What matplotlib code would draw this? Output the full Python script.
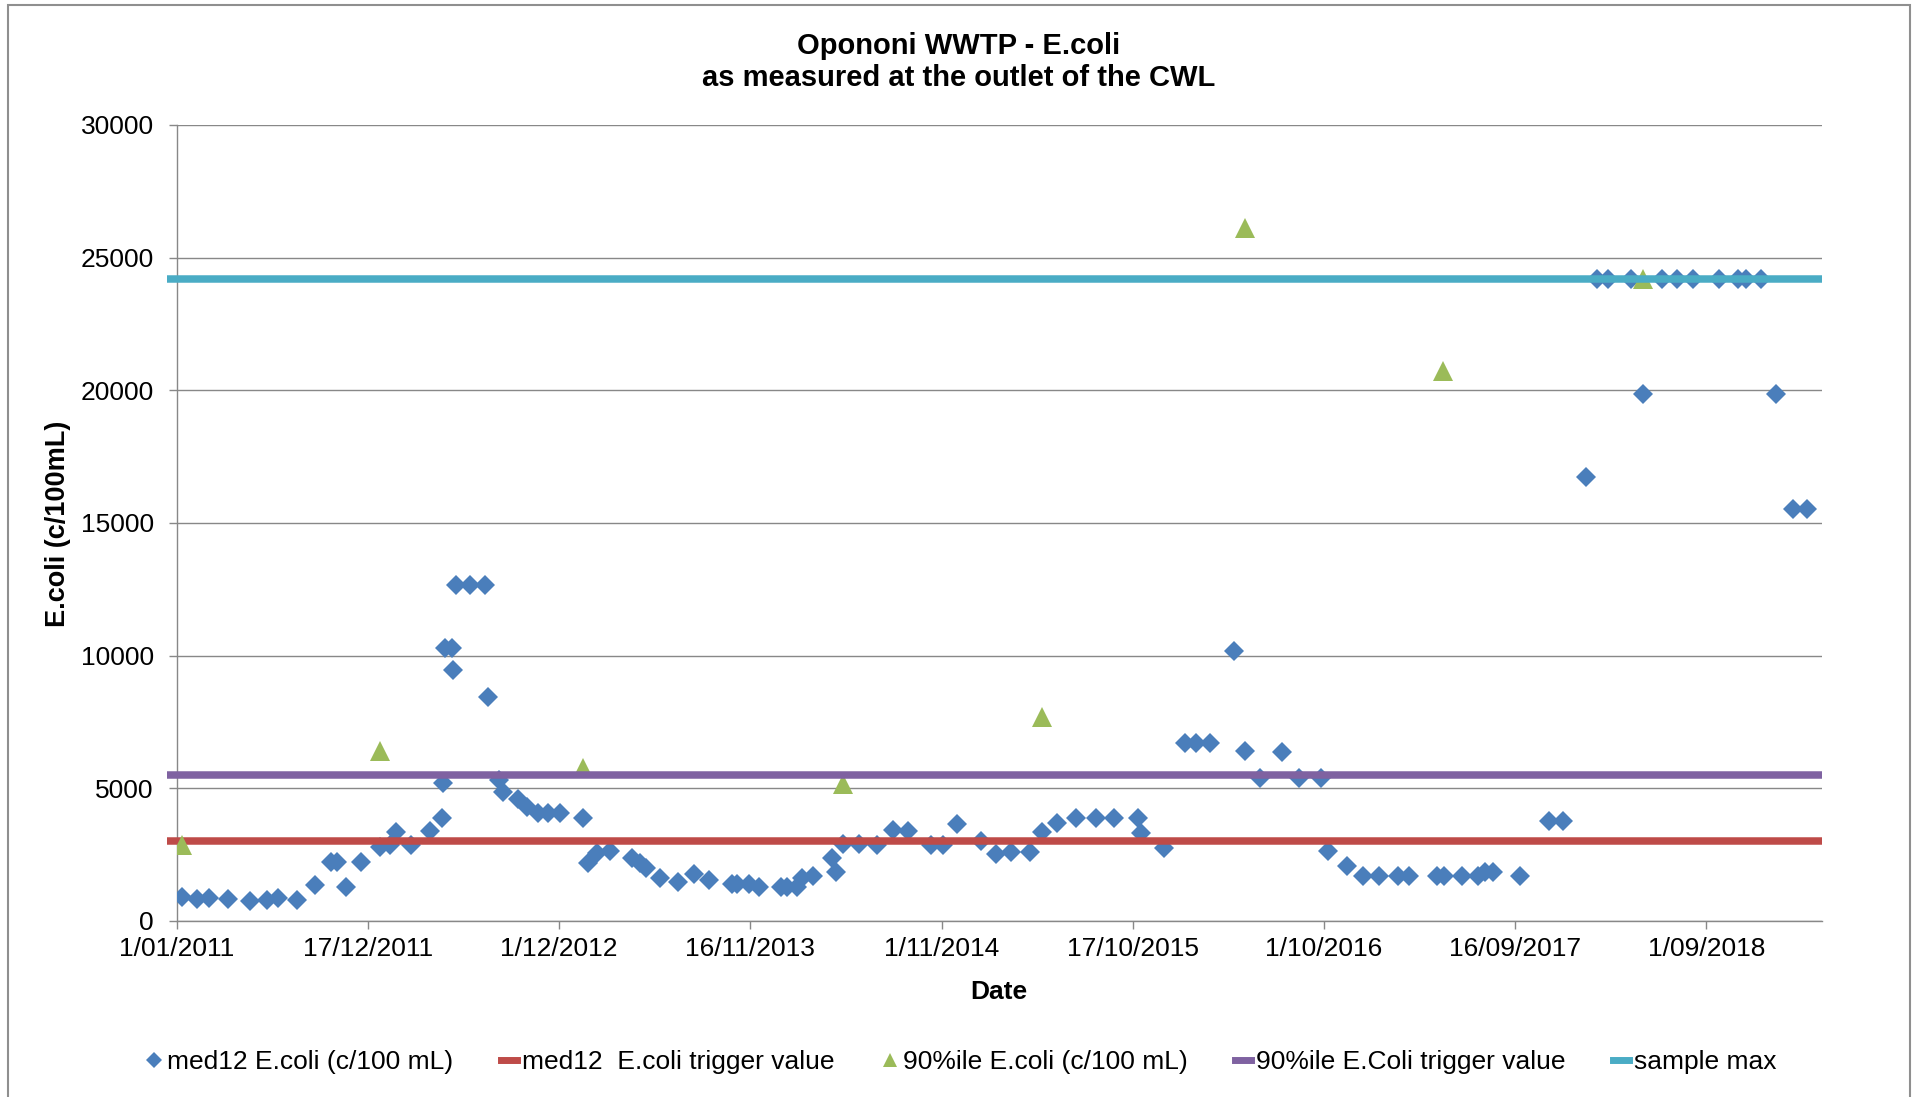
import numpy as np
import pandas as pd
import matplotlib
matplotlib.use("Agg")
import matplotlib.pyplot as plt
from matplotlib.lines import Line2D
from matplotlib.patches import Rectangle

plt.rcParams['font.family'] = ['Liberation Sans', 'DejaVu Sans']

START = pd.Timestamp('2011-01-01')

# med12 E.coli, days after 1/01/2011 and value (c/100 mL)
med_days = [9, 38, 60, 93, 134, 165, 186, 220, 254, 282, 293, 310, 337, 372, 390, 401,
            429, 464, 485, 487, 491, 503, 506, 512, 536, 564, 569, 590, 598, 624, 641,
            661, 680, 702, 744, 752, 770, 794, 833, 848, 859, 885, 918, 947, 975, 1016,
            1025, 1048, 1066, 1106, 1117, 1135, 1144, 1164, 1199, 1206, 1220, 1249, 1282,
            1311, 1339, 1381, 1402, 1429, 1472, 1500, 1528, 1562, 1584, 1611, 1646, 1682,
            1716, 1760, 1765, 1807, 1846, 1865, 1892, 1936, 1956, 1983, 2024, 2055, 2094,
            2108, 2143, 2172, 2201, 2235, 2256, 2306, 2319, 2353, 2381, 2395, 2409, 2458,
            2511, 2538, 2579, 2599, 2619, 2662, 2683, 2719, 2747, 2776, 2823, 2857, 2872,
            2900, 2927, 2958, 2985]
med_vals = [920, 830, 850, 840, 770, 790, 850, 790, 1360, 2240, 2240, 1270, 2240, 2780,
            2870, 3370, 2870, 3400, 3900, 5190, 10300, 10300, 9460, 12650, 12650, 12650,
            8460, 5320, 4880, 4590, 4310, 4060, 4060, 4060, 3870, 2180, 2550, 2620, 2360,
            2180, 1990, 1610, 1480, 1770, 1550, 1400, 1400, 1400, 1270, 1270, 1270, 1270,
            1610, 1700, 2360, 1860, 2890, 2890, 2870, 3430, 3400, 2870, 2870, 3660, 3030,
            2520, 2590, 2590, 3370, 3680, 3870, 3870, 3870, 3870, 3310, 2760, 6720, 6720,
            6720, 10190, 6420, 5380, 6360, 5380, 5380, 2620, 2090, 1710, 1710, 1710, 1710,
            1710, 1710, 1710, 1710, 1840, 1840, 1710, 3780, 3780, 16720, 24196, 24196,
            24196, 19870, 24196, 24196, 24196, 24196, 24196, 24196, 24196, 19870, 15530,
            15530]

# 90%ile E.coli
p90_days = [9, 373, 744, 1219, 1584, 1956, 2318, 2683]
p90_vals = [2870, 6420, 5760, 5170, 7670, 26120, 20720, 24196]

med_trigger = 3000
p90_trigger = 5500
sample_max = 24196
line_days = [-18, 3011]
x_end_days = 3011

tick_labels = ['1/01/2011', '17/12/2011', '1/12/2012', '16/11/2013', '1/11/2014',
               '17/10/2015', '1/10/2016', '16/09/2017', '1/09/2018']

BLUE = '#4A7EBB'
RED = '#BE4B48'
GREEN = '#9BBB59'
PURPLE = '#7F62A1'
CYAN = '#4AACC5'
GRID = '#888888'

med_x = START + pd.to_timedelta(med_days, unit='D')
p90_x = START + pd.to_timedelta(p90_days, unit='D')
line_x = START + pd.to_timedelta(line_days, unit='D')

fig = plt.figure(figsize=(19.23, 10.97), dpi=100)
ax = fig.add_axes([176.7 / 1923, 1 - 921 / 1097, 1645 / 1923, 796 / 1097])

ax.plot(med_x, med_vals, ls='none', marker='D', ms=10.2, mew=0, color=BLUE, zorder=3)
ax.plot(line_x, [med_trigger] * 2, color=RED, lw=5.4, solid_capstyle='butt', zorder=4, clip_on=False)
ax.plot(p90_x, p90_vals, ls='none', marker='^', ms=14.4, mew=0, color=GREEN, zorder=5)
ax.plot(line_x, [p90_trigger] * 2, color=PURPLE, lw=5.4, solid_capstyle='butt', zorder=6, clip_on=False)
ax.plot(line_x, [sample_max] * 2, color=CYAN, lw=5.4, solid_capstyle='butt', zorder=7, clip_on=False)

ax.set_ylim(0, 30000)
ax.set_yticks(np.arange(0, 30001, 5000))
ax.set_xlim(START, START + pd.Timedelta(days=x_end_days))
ax.set_xticks(pd.to_datetime(tick_labels, dayfirst=True))
ax.set_xticklabels(tick_labels)

ax.grid(axis='y', color=GRID, lw=1.0, zorder=1)
ax.set_axisbelow(True)
for s in ['top', 'right']:
    ax.spines[s].set_visible(False)
for s in ['left', 'bottom']:
    ax.spines[s].set_color(GRID)
    ax.spines[s].set_linewidth(1.0)
ax.tick_params(axis='both', direction='out', length=5.5, width=1.0, color=GRID, labelsize=19)
ax.tick_params(axis='y', pad=11)
ax.tick_params(axis='x', pad=6)

fig.text(959 / 1923, 1 - 45.5 / 1097, 'Opononi WWTP - E.coli', ha='center', va='center',
         fontsize=21, fontweight='bold')
fig.text(959 / 1923, 1 - 78.5 / 1097, 'as measured at the outlet of the CWL', ha='center',
         va='center', fontsize=21, fontweight='bold')
fig.text(999 / 1923, 1 - 992 / 1097, 'Date', ha='center', va='center', fontsize=19,
         fontweight='bold')
fig.text(57.6 / 1923, 1 - 523.7 / 1097, 'E.coli (c/100mL)', ha='center', va='center',
         rotation=90, fontsize=19.5, fontweight='bold')

handles = [
    Line2D([], [], ls='none', marker='D', ms=8, mew=0, color=BLUE),
    Line2D([], [], color=RED, lw=5),
    Line2D([], [], ls='none', marker='^', ms=10, mew=0, color=GREEN),
    Line2D([], [], color=PURPLE, lw=5),
    Line2D([], [], color=CYAN, lw=5),
]
labels = ['med12 E.coli (c/100 mL)', 'med12  E.coli trigger value', '90%ile E.coli (c/100 mL)',
          '90%ile E.Coli trigger value', 'sample max']
fig.legend(handles, labels, loc='center', bbox_to_anchor=(0.5, 1 - 1062 / 1097), ncol=5,
           frameon=False, fontsize=19, handlelength=0.6, handletextpad=0.2,
           columnspacing=1.8)

fig.add_artist(Rectangle((8 / 1923, -0.02), 1902 / 1923, 1.02 - 5 / 1097,
                         transform=fig.transFigure, fill=False, edgecolor='#8f8f8f', lw=1.5))

fig.savefig('out.png', dpi=100)
